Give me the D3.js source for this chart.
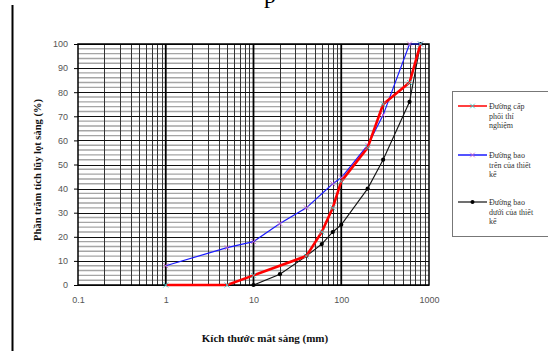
<!DOCTYPE html>
<html>
<head>
<meta charset="utf-8">
<script src="https://cdn.jsdelivr.net/npm/d3@7"></script>
<style>
  body { margin: 0; background: #fff; }
  svg { display: block; }
</style>
</head>
<body>
<div id="chart"></div>
<script>
// Sieve sizes (mm) and cumulative passing (%)
var testX = [1, 5, 10, 40, 60, 80, 100, 200, 300, 600, 800];
var testY = [0, 0, 4, 12, 22, 32, 43, 57, 75, 84, 100];

var upperX = [1, 5, 10, 20, 40, 80, 100, 200, 300, 600, 800];
var upperY = [8, 15.5, 18, 25.5, 32, 42, 44.5, 58, 70.5, 100, 100];

var lowerX = [10, 20, 40, 60, 80, 100, 200, 300, 600, 800];
var lowerY = [0, 4.5, 12, 17, 22, 25, 40, 52, 76, 100];

var xTickLabels = ["0.1", "1", "10", "100", "1000"];
var yTicks = [0, 10, 20, 30, 40, 50, 60, 70, 80, 90, 100];

var legendNames = [
  ["Đường cấp", "phối thí", "nghiệm"],
  ["Đường bao", "trên của thiết", "kế"],
  ["Đường bao", "dưới của thiết", "kế"]
];

var width = 548, height = 351;

var svg = d3.select("#chart").append("svg")
    .attr("width", width)
    .attr("height", height);

// left page rule and the cut-off heading glyph
svg.append("line")
    .attr("x1", 12.5).attr("x2", 12.5)
    .attr("y1", 5).attr("y2", height)
    .attr("stroke", "#000").attr("stroke-width", 2);
svg.append("text")
    .attr("x", 264).attr("y", 3)
    .style("font-family", "Liberation Serif")
    .style("font-size", "24px")
    .text("p");

var x = d3.scaleLog().domain([0.1, 1000]).range([78, 429]);
var y = d3.scaleLinear().domain([0, 100]).range([285, 44]);

var g = svg.append("g");

// minor horizontal grid, every 2 %
var minorY = d3.range(2, 100, 2).filter(function(v) { return v % 10 != 0; });
g.selectAll(".hminor").data(minorY).enter().append("line")
    .attr("x1", x(0.1)).attr("x2", x(1000))
    .attr("y1", function(d) { return y(d); })
    .attr("y2", function(d) { return y(d); })
    .attr("stroke", "#a5a5a5")
    .attr("stroke-width", 1.4);

// vertical grid: 2..9 of each decade
var vAll = x.ticks();
var vMinor = vAll.filter(function(v) {
  var l = Math.log10(v);
  return Math.abs(l - Math.round(l)) > 1e-6;
});
var vMajor = [1, 10, 100];

g.selectAll(".vminor").data(vMinor).enter().append("line")
    .attr("x1", function(d) { return Math.round(x(d)) + 0.5; })
    .attr("x2", function(d) { return Math.round(x(d)) + 0.5; })
    .attr("y1", y(100)).attr("y2", y(0))
    .attr("stroke", "#333")
    .attr("stroke-width", 1);

// major horizontal grid
g.selectAll(".hmajor").data(yTicks).enter().append("line")
    .attr("x1", x(0.1)).attr("x2", x(1000))
    .attr("y1", function(d) { return Math.round(y(d)) + 0.5; })
    .attr("y2", function(d) { return Math.round(y(d)) + 0.5; })
    .attr("stroke", "#111")
    .attr("stroke-width", 1.2);

g.selectAll(".vmajor").data(vMajor).enter().append("line")
    .attr("x1", function(d) { return x(d); })
    .attr("x2", function(d) { return x(d); })
    .attr("y1", y(100)).attr("y2", y(0))
    .attr("stroke", "#000")
    .attr("stroke-width", 1.8);

// frame
g.append("rect")
    .attr("x", x(0.1)).attr("y", y(100))
    .attr("width", x(1000) - x(0.1))
    .attr("height", y(0) - y(100))
    .attr("fill", "none")
    .attr("stroke", "#000")
    .attr("stroke-width", 1.5);

// axes
var yAxis = d3.axisLeft(y).tickValues(yTicks).tickSize(4).tickPadding(6);
var ya = svg.append("g")
    .attr("transform", "translate(" + x(0.1) + ",0)")
    .call(yAxis);
ya.select(".domain").remove();
ya.selectAll("text")
    .style("font-family", "Liberation Sans")
    .style("font-size", "9px")
    .attr("fill", "#555");

var xAxis = d3.axisBottom(x)
    .tickValues([0.1, 1, 10, 100, 1000])
    .tickFormat(function(d, i) { return xTickLabels[i]; })
    .tickSize(0).tickPadding(12);
var xa = svg.append("g")
    .attr("transform", "translate(0," + y(0) + ")")
    .call(xAxis);
xa.select(".domain").remove();
xa.selectAll("text")
    .style("font-family", "Liberation Sans")
    .style("font-size", "9px")
    .attr("fill", "#555");

// series
var line = d3.line()
    .x(function(d) { return x(d[0]); })
    .y(function(d) { return y(d[1]); });

var test = d3.zip(testX, testY),
    upper = d3.zip(upperX, upperY),
    lower = d3.zip(lowerX, lowerY);

function crosses(data, color, size) {
  var s = size;
  svg.append("g").selectAll("path").data(data).enter().append("path")
      .attr("d", function(d) {
        var cx = x(d[0]), cy = y(d[1]);
        return "M" + (cx - s) + "," + (cy - s) + "L" + (cx + s) + "," + (cy + s) +
               "M" + (cx - s) + "," + (cy + s) + "L" + (cx + s) + "," + (cy - s);
      })
      .attr("stroke", color)
      .attr("stroke-width", 0.9);
}

svg.append("path").datum(lower)
    .attr("d", line).attr("fill", "none")
    .attr("stroke", "#111").attr("stroke-width", 1.1);
svg.append("g").selectAll("circle").data(lower).enter().append("circle")
    .attr("cx", function(d) { return x(d[0]); })
    .attr("cy", function(d) { return y(d[1]); })
    .attr("r", 2.1)
    .attr("fill", "#000");

svg.append("path").datum(upper)
    .attr("d", line).attr("fill", "none")
    .attr("stroke", "#1a1aff").attr("stroke-width", 1.2);
crosses(upper, "#cc66cc", 2.5);

svg.append("path").datum(test)
    .attr("d", line).attr("fill", "none")
    .attr("stroke", "#ff0000").attr("stroke-width", 2.6);
crosses(test, "#33cccc", 2.5);

// axis titles
svg.append("text")
    .attr("transform", "translate(41,170) rotate(-90)")
    .attr("text-anchor", "middle")
    .style("font-family", "Liberation Serif")
    .style("font-weight", "bold")
    .style("font-size", "10.5px")
    .attr("fill", "#111")
    .text("Phần trăm tích lũy lọt sàng (%)");

svg.append("text")
    .attr("x", 265).attr("y", 342)
    .attr("text-anchor", "middle")
    .style("font-family", "Liberation Serif")
    .style("font-weight", "bold")
    .style("font-size", "11px")
    .attr("fill", "#111")
    .text("Kích thước mắt sàng (mm)");

// legend
var legend = svg.append("g");
legend.append("rect")
    .attr("x", 452.5).attr("y", 91.5)
    .attr("width", 100).attr("height", 145)
    .attr("fill", "#fff")
    .attr("stroke", "#777").attr("stroke-width", 1);

var legendY = [106, 155, 202];
var legendStyle = [
  {stroke: "#ff0000", w: 1.5, mark: "x", mc: "#33cccc"},
  {stroke: "#1a1aff", w: 1.5, mark: "x", mc: "#cc66cc"},
  {stroke: "#111", w: 1.2, mark: "o", mc: "#000"}
];

legendY.forEach(function(ly, i) {
  var st = legendStyle[i];
  legend.append("line")
      .attr("x1", 458).attr("x2", 487)
      .attr("y1", ly).attr("y2", ly)
      .attr("stroke", st.stroke).attr("stroke-width", st.w);
  if (st.mark == "x") {
    var cx = 472.5, s = 2.3;
    legend.append("path")
        .attr("d", "M" + (cx - s) + "," + (ly - s) + "L" + (cx + s) + "," + (ly + s) +
                   "M" + (cx - s) + "," + (ly + s) + "L" + (cx + s) + "," + (ly - s))
        .attr("stroke", st.mc).attr("stroke-width", 0.9);
  } else {
    legend.append("circle")
        .attr("cx", 472.5).attr("cy", ly).attr("r", 2)
        .attr("fill", st.mc);
  }
  legendNames[i].forEach(function(t, j) {
    legend.append("text")
        .attr("x", 489).attr("y", ly + 3 + j * 9.5)
        .style("font-family", "Liberation Serif")
        .style("font-size", "8px")
        .attr("fill", "#333")
        .text(t);
  });
});
</script>
</body>
</html>
